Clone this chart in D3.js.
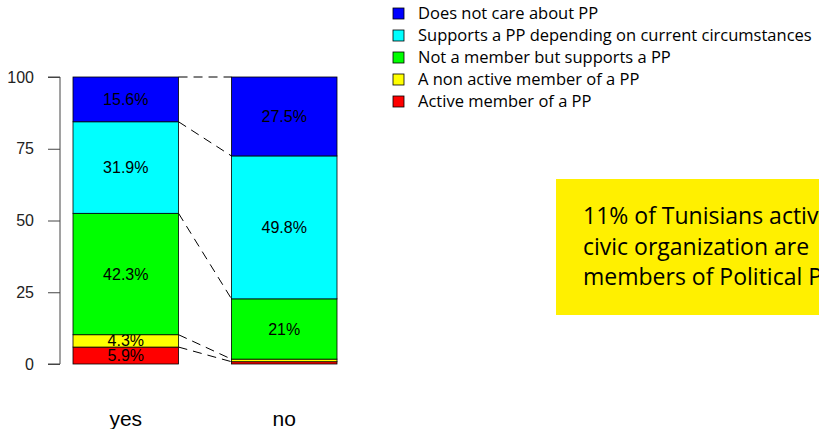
<!DOCTYPE html>
<html>
<head>
<meta charset="utf-8">
<script src="https://cdn.jsdelivr.net/npm/d3@7"></script>
<style>
  body { margin: 0; background: #fff; }
  svg { display: block; }
  .tick text { font-family: "Liberation Sans", Arial, sans-serif; font-size: 16px; fill: #222; }
</style>
</head>
<body>
<div id="chart"></div>
<script>
const groups = ["yes", "no"];
const categories = ["Active member of a PP", "A non active member of a PP", "Not a member but supports a PP",
  "Supports a PP depending on current circumstances", "Does not care about PP"];
const colors = ["#ff0000", "#ffff00", "#00ff00", "#00ffff", "#0000ff"];
const yesValues = [5.9, 4.3, 42.3, 31.9, 15.6];
const noValues = [0.8, 0.9, 21, 49.8, 27.5];
const yesLabels = ["5.9%", "4.3%", "42.3%", "31.9%", "15.6%"];
const noLabels = ["", "", "21%", "49.8%", "27.5%"];
const yTicks = [0, 25, 50, 75, 100];
const note = ["11% of Tunisians active in", "civic organization are", "members of Political Parties"];

const W = 819, H = 429;
const svg = d3.select("#chart").append("svg").attr("width", W).attr("height", H);

const y = d3.scaleLinear().domain([0, 100]).range([364, 77]);
const x = d3.scaleBand().domain(groups).range([73, 337]).paddingInner(0.334).paddingOuter(0);

// stack the two groups
const series = [yesValues, noValues].map((vals, gi) => {
  let acc = 0;
  return vals.map((v, i) => {
    const d = { group: groups[gi], i: i, y0: acc, y1: acc + v,
      label: gi === 0 ? yesLabels[i] : noLabels[i] };
    acc += v;
    return d;
  });
});

svg.append("g")
  .attr("transform", "translate(60,0)")
  .call(d3.axisLeft(y).tickValues(yTicks).tickSize(12).tickPadding(14))
  .call(g => g.select(".domain").attr("stroke", "#444").attr("d", `M-12,${y(0)}H0V${y(100)}H-12`))
  .call(g => g.selectAll(".tick line").attr("stroke", "#444"));

// connecting dashed lines
const yesTop = [0].concat(series[0].map(d => d.y1));
const noTop = [0].concat(series[1].map(d => d.y1));
svg.append("g").selectAll("line")
  .data(d3.range(1, yesTop.length))
  .join("line")
  .attr("x1", x("yes") + x.bandwidth())
  .attr("x2", x("no"))
  .attr("y1", k => y(yesTop[k]))
  .attr("y2", k => y(noTop[k]))
  .attr("stroke", "#000")
  .attr("stroke-dasharray", "9,6");

const seg = svg.append("g").selectAll("g")
  .data(series.flat())
  .join("g");

seg.append("rect")
  .attr("x", d => x(d.group))
  .attr("width", x.bandwidth())
  .attr("y", d => y(d.y1))
  .attr("height", d => y(d.y0) - y(d.y1))
  .attr("fill", d => colors[d.i])
  .attr("stroke", "#000")
  .attr("stroke-width", 0.8);

seg.append("text")
  .attr("x", d => x(d.group) + x.bandwidth() / 2)
  .attr("y", d => y((d.y0 + d.y1) / 2))
  .attr("dy", "0.35em")
  .attr("text-anchor", "middle")
  .attr("font-family", "Liberation Sans, Arial, sans-serif")
  .attr("font-size", 16)
  .text(d => d.label);

svg.append("g").selectAll("text")
  .data(groups)
  .join("text")
  .attr("x", d => x(d) + x.bandwidth() / 2)
  .attr("y", 426)
  .attr("text-anchor", "middle")
  .attr("font-family", "Liberation Sans, Arial, sans-serif")
  .attr("font-size", 21)
  .text(d => d);

// legend, top entry first
const legendItems = d3.range(categories.length).reverse();
const legend = svg.append("g").selectAll("g")
  .data(legendItems)
  .join("g")
  .attr("transform", (d, k) => `translate(393,${8 + k * 22})`);
legend.append("rect")
  .attr("width", 11).attr("height", 11)
  .attr("fill", d => colors[d]).attr("stroke", "#000").attr("stroke-width", 0.8);
legend.append("text")
  .attr("x", 25).attr("y", 11)
  .attr("font-family", "Open Sans, sans-serif")
  .attr("font-size", 16.5)
  .text(d => categories[d]);

// annotation box
svg.append("rect")
  .attr("x", 556).attr("y", 179).attr("width", 300).attr("height", 136)
  .attr("fill", "#fff000");
svg.append("g").selectAll("text")
  .data(note)
  .join("text")
  .attr("x", 583)
  .attr("y", (d, k) => 224 + k * 30.5)
  .attr("font-family", "Open Sans, sans-serif")
  .attr("font-size", 23)
  .text(d => d);
</script>
</body>
</html>
